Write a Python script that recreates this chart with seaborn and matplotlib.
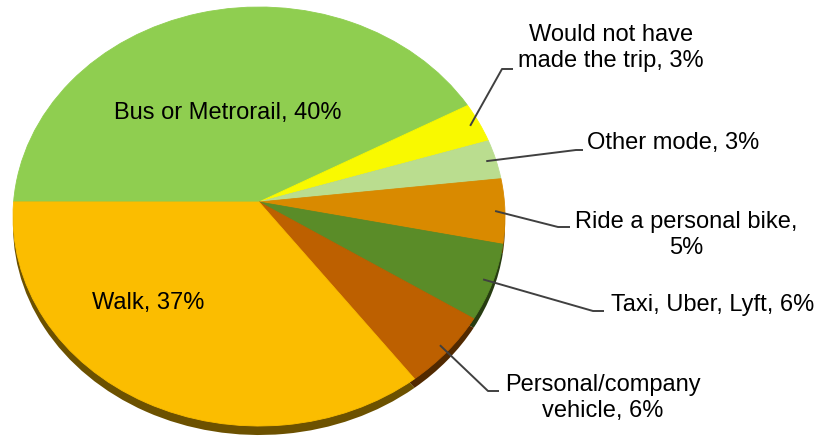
import numpy as np
import matplotlib
matplotlib.use('Agg')
import matplotlib.pyplot as plt
import matplotlib.colors as mcolors
from matplotlib.patches import PathPatch
from matplotlib.path import Path
import seaborn as sns

# data, clockwise from the left edge of the pie
modes = ['Bus or Metrorail', 'Would not have\nmade the trip', 'Other mode',
         'Ride a personal bike', 'Taxi, Uber, Lyft', 'Personal/company\nvehicle', 'Walk']
shares = [40, 3, 3, 5, 6, 6, 37]
colors = ['#8FCE50', '#F9F900', '#BADD8F', '#D98A00', '#5A8C28', '#BD6000', '#FBBD00']

sns.set_theme(style='white')
plt.rcParams['font.family'] = ['Liberation Sans', 'DejaVu Sans']

# pie geometry in pixels (the pie is a flattened ellipse)
CX, CY, RX, RY = 259, 217.5, 246, 209.5
APEX_DY = 14.5 / RY     # apex sits a little above the ellipse centre
DEPTH = 9 / RY          # thickness of the pie side


def px(x, y):
    return (x - CX) / RX, (CY - y) / RY


def warp(x, y):
    r = np.clip(np.hypot(x, y), 0, 1)
    return x, y + APEX_DY * (1 - r)


def make_label(name, share):
    sep = ',\n' if name == 'Ride a personal bike' else ', '
    return f'{name}{sep}{share}%'


fig = plt.figure(figsize=(8.22, 4.39), dpi=100)
ax = fig.add_axes([0, 0, 1, 1])

# side of the pie
dark = [tuple(np.array(mcolors.to_rgb(c)) * 0.43) for c in colors]
shadow, _ = ax.pie(shares, colors=dark, startangle=176, counterclock=False,
                   center=(0, -DEPTH), radius=1.0,
                   wedgeprops=dict(linewidth=0))

# top face
wedges, _ = ax.pie(shares, colors=colors, startangle=176, counterclock=False,
                   center=(0, 0), radius=1.0)
for w, c in zip(wedges, colors):
    p = w.get_path()
    v = p.vertices.copy()
    v[:, 0], v[:, 1] = warp(v[:, 0], v[:, 1])
    ax.add_patch(PathPatch(Path(v, p.codes), facecolor=c, edgecolor=c,
                           linewidth=0.6, zorder=3))
    w.set_visible(False)

ax.set_aspect('auto')
ax.set_xlim(px(0, 0)[0], px(822, 0)[0])
ax.set_ylim(px(0, 439)[1], px(0, 0)[1])
ax.axis('off')

# inside labels
inside = {'Bus or Metrorail': (228, 113), 'Walk': (148, 303)}
# outside labels: text centre, elbow, line end (pixels)
outside = {
    'Would not have\nmade the trip': ((611, 48), (502, 70), (513, 70)),
    'Other mode': ((673, 143), (576, 151), (583, 151)),
    'Ride a personal bike': ((686, 235), (558, 228), (570, 228)),
    'Taxi, Uber, Lyft': ((713, 305), (593, 312), (604, 312)),
    'Personal/company\nvehicle': ((603, 398), (488, 392), (499, 392)),
}

for name, share, w in zip(modes, shares, wedges):
    text = make_label(name, share)
    if name in inside:
        tx, ty = px(*inside[name])
        ax.text(tx, ty, text, ha='center', va='center', fontsize=17,
                color='black', zorder=5)
        continue
    (tpos, elbow, end) = outside[name]
    mid = np.deg2rad((w.theta1 + w.theta2) / 2)
    ax0, ay0 = warp(0.96 * np.cos(mid), 0.96 * np.sin(mid))
    ex, ey = px(*elbow)
    lx, ly = px(*end)
    ax.plot([ax0, ex, lx], [ay0, ey, ly], color='#404040', lw=1.4,
            solid_capstyle='butt', zorder=4)
    tx, ty = px(*tpos)
    ax.text(tx, ty, text, ha='center', va='center', fontsize=17,
            color='black', linespacing=1.2, zorder=5)

fig.savefig('out.png', dpi=100)
